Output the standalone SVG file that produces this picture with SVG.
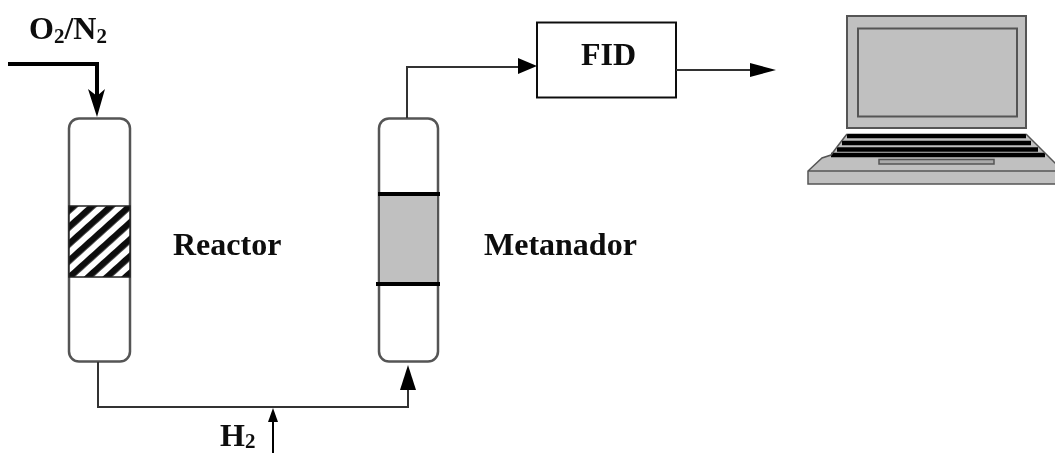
<svg xmlns="http://www.w3.org/2000/svg" width="1055" height="453" viewBox="0 0 1055 453">
<style>
.t{font-family:"Liberation Serif","Times New Roman",serif;font-weight:bold;font-size:32px;fill:#0a0a0a}
.s{font-size:21px}
.col{fill:#fff;stroke:#555;stroke-width:2.500}
.lap{fill:#c0c0c0;stroke:#555;stroke-width:2}
.c{fill:none;stroke:#333;stroke-width:2}
.bar{stroke:#000;stroke-width:4;fill:none}
g{filter:url(#soft)}
</style>
<defs>
<filter id="soft" x="-5%" y="-5%" width="110%" height="110%"><feGaussianBlur stdDeviation="0.500"/></filter>
<pattern id="hatch" width="12.500" height="12.500" patternUnits="userSpaceOnUse" patternTransform="translate(69 206) rotate(-42)">
<rect width="12.500" height="12.500" fill="#fff"/><rect width="12.500" height="6.500" fill="#111"/>
</pattern>
</defs>
<g id="reactor">
<rect class="col" x="69" y="118.500" width="61" height="243" rx="10"/>
<rect x="69" y="206" width="61" height="71" fill="url(#hatch)" stroke="#222" stroke-width="1.500"/>
</g>
<g id="metanador">
<rect class="col" x="379" y="118.500" width="59" height="243" rx="10"/>
<rect x="380" y="194" width="57" height="90" fill="#c0c0c0"/>
<path class="bar" d="M378 194H440M376 284H440"/>
</g>
<g id="fid">
<rect x="537" y="22.500" width="139" height="75" fill="#fff" stroke="#111" stroke-width="2"/>
<text class="t" x="581" y="65">FID</text>
</g>
<g id="laptop">
<rect class="lap" x="847" y="16" width="179" height="112"/>
<rect class="lap" x="858" y="28.500" width="159" height="88"/>
<path d="M847 134H1026L1047 155L1056 164V184H808V171L822 158L831 155L840 143Z" fill="#c0c0c0"/>
<path d="M847 136H1026M842 143H1031M837 149.500H1038M831 155H1045" stroke="#000" stroke-width="4.500" fill="none"/>
<path d="M847 134L840 143L831 155L822 158L808 171V184H1056M808 171H1056M1026 134L1056 164" fill="none" stroke="#555" stroke-width="1.500"/>
<rect x="879" y="159.500" width="115" height="4.500" fill="#aaa" stroke="#555" stroke-width="1.500"/>
</g>
<g id="connectors">
<path d="M8 64H97V100" fill="none" stroke="#000" stroke-width="4"/>
<path d="M88 89L97 117L105 89L97 96Z" fill="#000"/>
<path class="c" d="M98 362V407H408V385"/>
<path d="M408 365L400 390H416Z" fill="#000"/>
<path d="M273 453V420" fill="none" stroke="#000" stroke-width="2"/>
<path d="M273 408L268 422H278Z" fill="#000"/>
<path class="c" d="M407 118V67H520" stroke-width="2.500"/>
<path d="M518 58L537 66L518 74Z" fill="#000"/>
<path class="c" d="M676 70H752"/>
<path d="M750 63L776 70L750 77Z" fill="#000"/>
</g>
<g id="labels">
<text class="t" x="29" y="39">O<tspan class="s" dy="4">2</tspan><tspan dy="-4">/N</tspan><tspan class="s" dy="4">2</tspan></text>
<text class="t" x="173" y="255">Reactor</text>
<text class="t" x="484" y="255">Metanador</text>
<text class="t" x="220" y="446">H<tspan class="s" dy="2">2</tspan></text>
</g>
</svg>
